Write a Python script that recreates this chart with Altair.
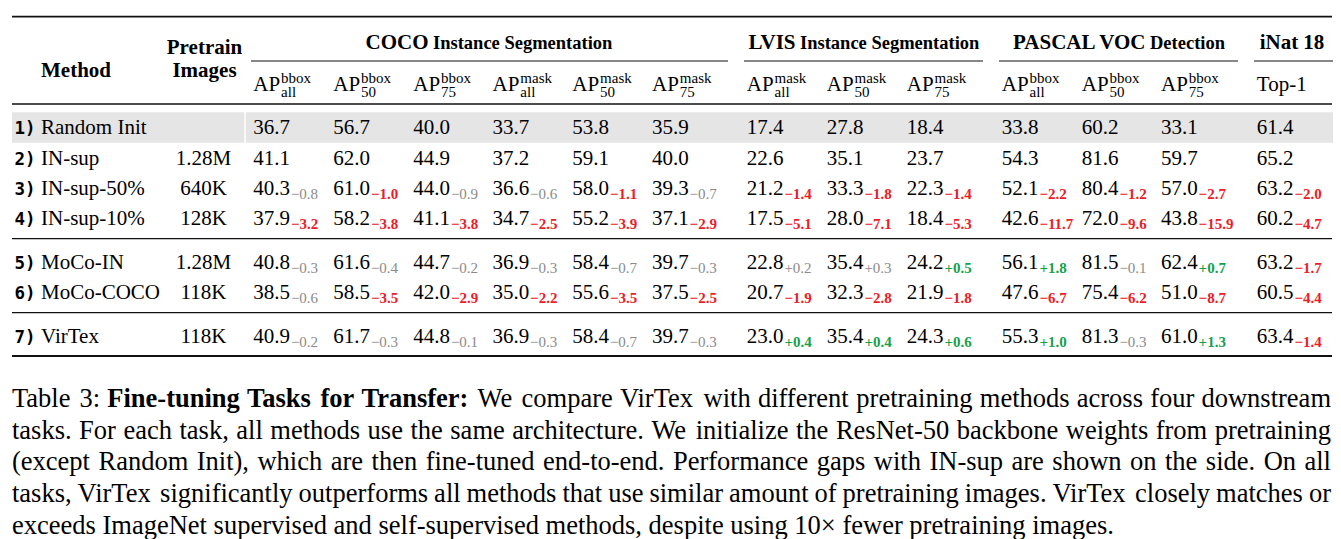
import altair as alt
import pandas as pd

# ---------------- data ----------------
row_ids = ["1)", "2)", "3)", "4)", "5)", "6)", "7)"]
methods = ["Random Init", "IN-sup", "IN-sup-50%", "IN-sup-10%", "MoCo-IN", "MoCo-COCO", "VirTex"]
pretrain = ["", "1.28M", "640K", "128K", "1.28M", "118K", "118K"]

group_main = ["COCO", "LVIS", "PASCAL VOC", "iNat 18"]
group_rest = ["Instance Segmentation", "Instance Segmentation", "Detection", ""]

col_sup = ["bbox", "bbox", "bbox", "mask", "mask", "mask", "mask", "mask", "mask", "bbox", "bbox", "bbox", ""]
col_sub = ["all", "50", "75", "all", "50", "75", "all", "50", "75", "all", "50", "75", ""]
col_plain = ["", "", "", "", "", "", "", "", "", "", "", "", "Top-1"]

score_random = [36.7, 56.7, 40.0, 33.7, 53.8, 35.9, 17.4, 27.8, 18.4, 33.8, 60.2, 33.1, 61.4]
score_insup = [41.1, 62.0, 44.9, 37.2, 59.1, 40.0, 22.6, 35.1, 23.7, 54.3, 81.6, 59.7, 65.2]
score_insup50 = [40.3, 61.0, 44.0, 36.6, 58.0, 39.3, 21.2, 33.3, 22.3, 52.1, 80.4, 57.0, 63.2]
score_insup10 = [37.9, 58.2, 41.1, 34.7, 55.2, 37.1, 17.5, 28.0, 18.4, 42.6, 72.0, 43.8, 60.2]
score_mocoin = [40.8, 61.6, 44.7, 36.9, 58.4, 39.7, 22.8, 35.4, 24.2, 56.1, 81.5, 62.4, 63.2]
score_mocococo = [38.5, 58.5, 42.0, 35.0, 55.6, 37.5, 20.7, 32.3, 21.9, 47.6, 75.4, 51.0, 60.5]
score_virtex = [40.9, 61.7, 44.8, 36.9, 58.4, 39.7, 23.0, 35.4, 24.3, 55.3, 81.3, 61.0, 63.4]

gap_insup50 = [-0.8, -1.0, -0.9, -0.6, -1.1, -0.7, -1.4, -1.8, -1.4, -2.2, -1.2, -2.7, -2.0]
gap_insup10 = [-3.2, -3.8, -3.8, -2.5, -3.9, -2.9, -5.1, -7.1, -5.3, -11.7, -9.6, -15.9, -4.7]
gap_mocoin = [-0.3, -0.4, -0.2, -0.3, -0.7, -0.3, 0.2, 0.3, 0.5, 1.8, -0.1, 0.7, -1.7]
gap_mocococo = [-0.6, -3.5, -2.9, -2.2, -3.5, -2.5, -1.9, -2.8, -1.8, -6.7, -6.2, -8.7, -4.4]
gap_virtex = [-0.2, -0.3, -0.1, -0.3, -0.7, -0.3, 0.4, 0.4, 0.6, 1.0, -0.3, 1.3, -1.4]

scores = [score_random, score_insup, score_insup50, score_insup10, score_mocoin, score_mocococo, score_virtex]
gaps = [None, None, gap_insup50, gap_insup10, gap_mocoin, gap_mocococo, gap_virtex]

caption_lines = [
    "Table 3: |Fine-tuning Tasks for Transfer:| We compare VirTex with different pretraining methods across four downstream",
    "tasks. For each task, all methods use the same architecture. We initialize the ResNet-50 backbone weights from pretraining",
    "(except Random Init), which are then fine-tuned end-to-end.  Performance gaps with IN-sup are shown on the side.  On all",
    "tasks, VirTex significantly outperforms all methods that use similar amount of pretraining images. VirTex closely matches or",
    "exceeds ImageNet supervised and self-supervised methods, despite using 10\u00d7 fewer pretraining images.",
]

# ---------------- layout (pixel positions) ----------------
W, H = 1325, 531
SERIF = "Liberation Serif"
col_x = [253.3, 333.3, 413.3, 492.5, 572.3, 652.0, 746.8, 826.8, 906.8, 1001.8, 1081.8, 1161.0, 1256.8]
row_base = [134, 164.5, 194.8, 225.2, 268.5, 299, 343]
FS = 21
SUB_FS = 15
RED, GREEN, GRAY = "#EC1C28", "#17A04A", "#8A8A8A"

X = alt.X("x:Q", scale=alt.Scale(domain=[8, 8 + W]), axis=None)
Y = alt.Y("y:Q", scale=alt.Scale(domain=[8, 8 + H], reverse=True), axis=None)

# Times metrics (per 1000 em) for caption justification
TR = dict(zip("abcdefghijklmnopqrstuvwxyz",
              [444, 500, 444, 500, 444, 333, 500, 500, 278, 278, 500, 278, 778, 500, 500, 500, 500, 333, 389, 278, 500, 500, 722, 500, 500, 444]))
TR.update({"T": 611, "F": 556, "W": 944, "V": 722, "R": 667, "N": 722, "I": 333, "P": 556, "O": 722,
           "(": 333, ")": 333, ":": 278, ",": 250, ".": 250, "-": 333, "\u00d7": 564, " ": 250})
for d in "0123456789":
    TR[d] = 500
TB = dict(TR)
TB.update({"F": 611, "T": 667, "n": 556, "u": 556, "k": 556, "a": 500, "r": 444, ":": 333, "t": 333})


def tw(s, bold, fs):
    tab = TB if bold else TR
    return sum(tab.get(ch, 500) for ch in s) / 1000.0 * fs


def text_layer(df, fs, weight="normal", align="left", font=SERIF, color="#000"):
    return alt.Chart(df).mark_text(align=align, baseline="alphabetic", font=font, fontSize=fs,
                                   fontWeight=weight, color=color).encode(x=X, y=Y, text="t:N")


layers = []

# gray band behind row 1
band = pd.DataFrame({"x": [12, 245.8], "x2": [244.3, 1334], "y": [112.3, 112.3], "y2": [142.8, 142.8]})
layers.append(alt.Chart(band).mark_rect(color="#E5E5E5").encode(x=X, x2="x2:Q", y=Y, y2="y2:Q"))

# rules
rules = pd.DataFrame({
    "x": [12, 251, 744, 999, 1254, 12, 12, 12, 12],
    "x2": [1332, 728, 983, 1238, 1333, 1332, 1332, 1332, 1332],
    "y": [16.6, 61, 61, 61, 61, 104, 238.7, 312.7, 356],
    "w": [1.8, 1.0, 1.0, 1.0, 1.0, 1.4, 1.2, 1.2, 2.0],
})
layers.append(alt.Chart(rules).mark_rule(color="#111").encode(x=X, x2="x2:Q", y=Y, size=alt.Size("w:Q", scale=None)))

# header: Method / Pretrain Images
hdr = pd.DataFrame({"x": [76, 204.5, 204.5], "y": [76.5, 54, 77], "t": ["Method", "Pretrain", "Images"]})
layers.append(text_layer(hdr, FS, "bold", "center"))

# group headers
g_split = [(428.5, 433.0), (795.5, 800.0), (1145.5, 1150.0)]
gm = pd.DataFrame({"x": [s[0] for s in g_split], "y": [48.5] * 3, "t": group_main[:3]})
layers.append(text_layer(gm, FS, "bold", "right"))
gr = pd.DataFrame({"x": [s[1] for s in g_split], "y": [48.5] * 3, "t": group_rest[:3]})
layers.append(text_layer(gr, 18.5, "bold", "left"))
gi = pd.DataFrame({"x": [1292], "y": [48.5], "t": [group_main[3]]})
layers.append(text_layer(gi, FS, "bold", "center"))

# column headers AP^sup_sub
ap = pd.DataFrame({"x": [col_x[i] for i in range(12)], "y": [91] * 12, "t": ["AP"] * 12})
layers.append(text_layer(ap, FS))
sup = pd.DataFrame({"x": [col_x[i] + 27.8 for i in range(12)], "y": [83] * 12, "t": col_sup[:12]})
layers.append(text_layer(sup, SUB_FS))
sub = pd.DataFrame({"x": [col_x[i] + 27.8 for i in range(12)], "y": [97] * 12, "t": col_sub[:12]})
layers.append(text_layer(sub, SUB_FS))
top1 = pd.DataFrame({"x": [col_x[12]], "y": [91], "t": [col_plain[12]]})
layers.append(text_layer(top1, FS))

# row labels
ids = pd.DataFrame({"x": [14.5] * 7, "y": row_base, "t": row_ids})
layers.append(text_layer(ids, 17.5, "bold", "left", font="DejaVu Sans Mono"))
meth = pd.DataFrame({"x": [41] * 7, "y": row_base, "t": methods})
layers.append(text_layer(meth, FS))
pre = pd.DataFrame({"x": [203.5] * 7, "y": row_base, "t": pretrain})
layers.append(text_layer(pre, FS, "normal", "center"))

# values and gaps
main_rows, sub_rows = [], []
for r, vals in enumerate(scores):
    for c, v in enumerate(vals):
        main_rows.append({"x": col_x[c], "y": row_base[r], "t": f"{v:.1f}"})
        if gaps[r] is not None:
            g = gaps[r][c]
            kind = "red" if g <= -1.0 else ("green" if g >= 0.4 else "gray")
            sign = "+" if g > 0 else "\u2212"
            sub_rows.append({"x": col_x[c] + 37.6, "y": row_base[r] + 4.2, "t": f"{sign}{abs(g):.1f}", "k": kind})
layers.append(text_layer(pd.DataFrame(main_rows), FS))
sdf = pd.DataFrame(sub_rows)
layers.append(text_layer(sdf[sdf.k == "gray"], SUB_FS, "normal", color=GRAY))
layers.append(text_layer(sdf[sdf.k == "red"], SUB_FS, "bold", color=RED))
layers.append(text_layer(sdf[sdf.k == "green"], SUB_FS, "bold", color=GREEN))

# caption (justified lines)
CAP_FS = 26.5
cap_base = [407, 438.7, 470.4, 502.1, 533.6]
left, right = 12, 1331
cap_reg, cap_bold = [], []
for li, line in enumerate(caption_lines):
    words = []
    for si, seg in enumerate(line.split("|")):
        for w in seg.split(" "):
            if w:
                words.append((w, si % 2 == 1))
    widths = [tw(w, b, CAP_FS) for w, b in words]
    space = 0.25 * CAP_FS
    natural = sum(widths) + space * (len(words) - 1)
    if li < len(caption_lines) - 1:
        space += (right - left - natural) / (len(words) - 1)
    x = left
    for (w, b), wd in zip(words, widths):
        (cap_bold if b else cap_reg).append({"x": x, "y": cap_base[li], "t": w})
        x += wd + space
layers.append(text_layer(pd.DataFrame(cap_reg), CAP_FS))
layers.append(text_layer(pd.DataFrame(cap_bold), CAP_FS, "bold"))

chart = alt.layer(*layers).properties(
    width=W, height=H, padding=0, autosize=alt.AutoSizeParams(type="none")
).configure_view(stroke=None)

chart.save("out.html", embed_options={"renderer": "svg", "actions": False})
